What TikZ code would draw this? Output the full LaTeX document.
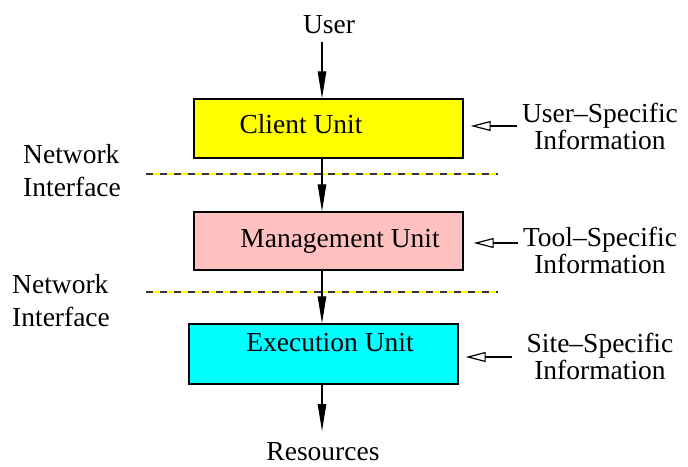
\documentclass[tikz,border=0pt]{standalone}
\usepackage{fontspec}
\setmainfont{Liberation Serif}
\usetikzlibrary{arrows.meta}
\definecolor{unityellow}{RGB}{255,255,0}
\definecolor{unitpink}{RGB}{255,192,192}
\definecolor{unitcyan}{RGB}{0,255,255}
\definecolor{netyellow}{RGB}{255,255,0}
\tikzset{
  unitbox/.style={draw=black, line width=1.4pt, inner sep=0pt},
  lbl/.style={inner sep=0pt, font=\fontsize{27.5}{27}\selectfont},
  sidelbl/.style={lbl, align=center},
  netlbl/.style={inner sep=0pt, align=left, font=\fontsize{27.5}{33}\selectfont},
  flow/.style={line width=1.2pt, -{Triangle[length=27pt, width=8.5pt]}},
  feed/.style={line width=1.2pt, -{Triangle[open, length=20pt, width=10pt, line width=1.2pt]}},
  netline/.style={line width=1.3pt}
}
\begin{document}
\begin{tikzpicture}[x=1pt, y=-1pt]
  \useasboundingbox (0,0) rectangle (688,466);

  % column of the main data path
  \coordinate (axis) at (322,0);

  % the three units
  \node[unitbox, fill=unityellow, minimum width=269pt, minimum height=59pt] (client) at (328.5,128.5) {};
  \node[unitbox, fill=unitpink, minimum width=269pt, minimum height=58pt] (mgmt) at (328.5,241) {};
  \node[unitbox, fill=unitcyan, minimum width=269pt, minimum height=60pt] (exec) at (323.5,354) {};

  \node[lbl] (clienttxt) at (301,124) {Client Unit};
  \node[lbl] (mgmttxt) at (340,241) {Management Unit};
  \node[lbl] (exectxt) at (330,343) {Execution Unit};

  % ends of the path
  \node[lbl] (user) at (329,25) {User};
  \node[lbl] (res) at (323,452) {Resources};
  \coordinate (userend) at (322,42);
  \coordinate (resend) at (322,431);

  % network interfaces
  \coordinate (net1a) at (146,174);
  \coordinate (net1b) at (498,174);
  \coordinate (net2a) at (146,292);
  \coordinate (net2b) at (498,292);
  \draw[netline, netyellow] (net1a) -- (net1b);
  \draw[netline, black!80, dash pattern=on 7pt off 7pt] (net1a) -- (net1b);
  \draw[netline, netyellow] (net2a) -- (net2b);
  \draw[netline, black!80, dash pattern=on 7pt off 7pt] (net2a) -- (net2b);
  \node[netlbl, anchor=west] (net1) at (23,171) {Network\\Interface};
  \node[netlbl, anchor=west] (net2) at (12,301) {Network\\Interface};

  % main flow
  \draw[flow] (userend) -- (client.north -| axis);
  \draw[flow] (client.south -| axis) -- (mgmt.north -| axis);
  \draw[flow] (mgmt.south -| axis) -- (exec.north -| axis);
  \draw[flow] (exec.south -| axis) -- (resend);

  % specific information fed into each unit
  \node[sidelbl] (userinfo) at (600,126) {User--Specific\\Information};
  \node[sidelbl] (toolinfo) at (600,250) {Tool--Specific\\Information};
  \node[sidelbl] (siteinfo) at (600,356) {Site--Specific\\Information};

  \coordinate (uin) at (517,126);
  \coordinate (tin) at (518,243);
  \coordinate (sin) at (512,357);
  \draw[feed] (uin) -- ([xshift=7pt]client.east |- uin);
  \draw[feed] (tin) -- ([xshift=10pt]mgmt.east |- tin);
  \draw[feed] (sin) -- ([xshift=7pt]exec.east |- sin);
\end{tikzpicture}
\end{document}
